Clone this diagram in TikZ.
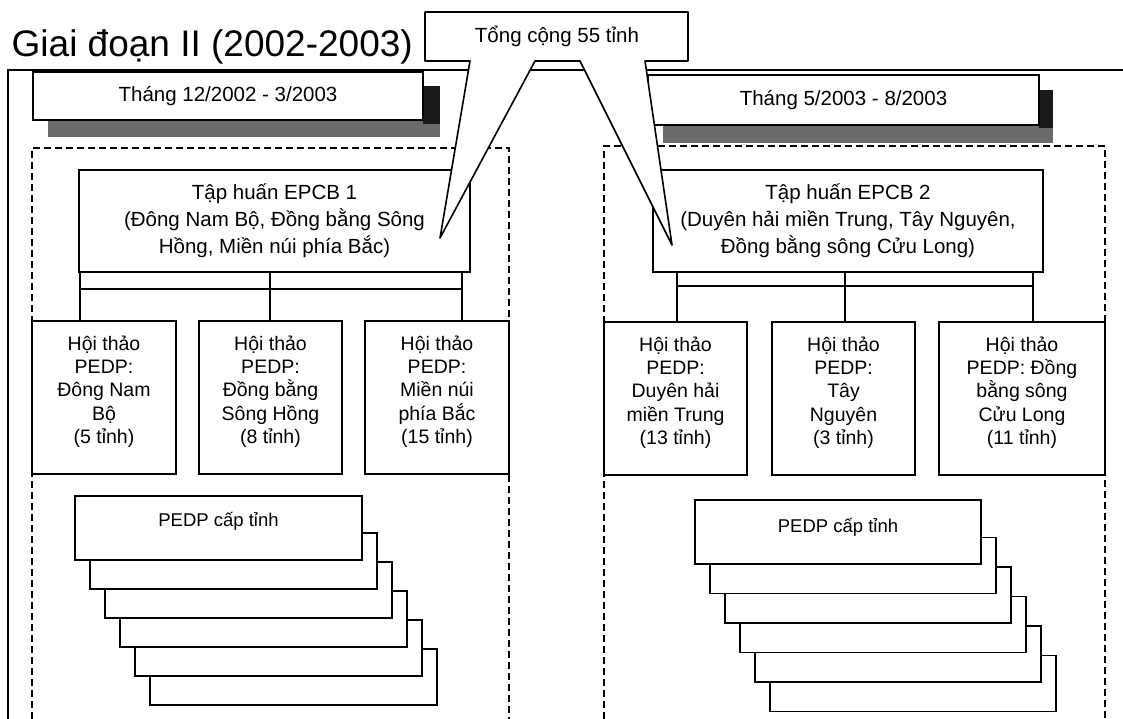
\documentclass[tikz,border=0pt]{standalone}
\usepackage{fontspec}
\setmainfont{Liberation Sans}
\usetikzlibrary{calc}
\begin{document}
\begin{tikzpicture}[x=1pt,y=-1pt,
  box/.style={draw=black, line width=1.6pt, fill=white, rectangle, inner sep=0pt, outer sep=0pt, anchor=north west},
  conn/.style={draw=black, line width=1.1pt},
  dashbox/.style={draw=black, line width=1.8pt, dash pattern=on 7pt off 4pt},
  frameline/.style={draw=black, line width=1.4pt},
  shadowband/.style={fill=black!58},
  shadowstrip/.style={fill=black!90},
  txt/.style={font=\fontsize{20.5}{27}\selectfont, align=center, inner sep=0pt},
  wtxt/.style={font=\fontsize{19.5}{23.3}\selectfont, align=center, inner sep=0pt},
  stxt/.style={font=\fontsize{18.5}{22}\selectfont, inner sep=0pt},
  callout/.style={draw=black, line width=1.6pt, fill=white, line join=round},
]
\useasboundingbox (0,0) rectangle (1123,719);
\clip (0,0) rectangle (1123,719);

% title
\node[anchor=base east, font=\fontsize{37}{40}\selectfont, inner sep=0pt] (title) at (413,57) {Giai đoạn II (2002-2003)};

% outer frame
\draw[frameline] (8,730) -- (8,70) -- (1130,70);

% dashed groups
\draw[dashbox] (32,730) -- (32,148) -- (509,148) -- (509,730);
\draw[dashbox] (604,730) -- (604,146) -- (1105,146) -- (1105,730);

% headers with shadows
\fill[shadowband] (48,87) rectangle (440,137);
\fill[shadowstrip] (423,86) rectangle (440,124);
\node[box, minimum width=390pt, minimum height=48pt, txt] (hdrL) at (33,72) {Tháng 12/2002 - 3/2003};

\fill[shadowband] (663,92) rectangle (1053,143);
\fill[shadowstrip] (1039,90) rectangle (1053,128);
\node[box, minimum width=391pt, minimum height=50pt, txt] (hdrR) at (648,75) {Tháng 5/2003 - 8/2003};

% training boxes
\node[box, minimum width=391pt, minimum height=102pt, txt] (epcbL) at (79,170) {Tập huấn EPCB 1\\(Đông Nam Bộ, Đồng bằng Sông\\Hồng, Miền núi phía Bắc)};
\node[box, minimum width=390pt, minimum height=102pt, txt] (epcbR) at (653,170) {Tập huấn EPCB 2\\(Duyên hải miền Trung, Tây Nguyên,\\Đồng bằng sông Cửu Long)};

% connectors
\coordinate (bL1) at (80,289); \coordinate (bL2) at (270,289); \coordinate (bL3) at (462,289);
\coordinate (bR1) at (677,286); \coordinate (bR2) at (845,286); \coordinate (bR3) at (1033,286);

% workshop boxes
\node[box, minimum width=144pt, minimum height=153pt] (wL1) at (32,321) {};
\node[box, minimum width=143pt, minimum height=153pt] (wL2) at (199,321) {};
\node[box, minimum width=144pt, minimum height=153pt] (wL3) at (365,321) {};
\node[box, minimum width=143pt, minimum height=153pt] (wR1) at (604,322) {};
\node[box, minimum width=143pt, minimum height=153pt] (wR2) at (772,322) {};
\node[box, minimum width=166pt, minimum height=153pt] (wR3) at (939,322) {};

\draw[conn] (bL1 |- epcbL.south) -- (bL1 |- wL1.north);
\draw[conn] (bL2 |- epcbL.south) -- (bL2 |- wL2.north);
\draw[conn] (bL3 |- epcbL.south) -- (bL3 |- wL3.north);
\draw[conn] (bL1) -- (bL3);
\draw[conn] (bR1 |- epcbR.south) -- (bR1 |- wR1.north);
\draw[conn] (bR2 |- epcbR.south) -- (bR2 |- wR2.north);
\draw[conn] (bR3 |- epcbR.south) -- (bR3 |- wR3.north);
\draw[conn] (bR1) -- (bR3);

\node[wtxt] at ($(wL1.center)+(0,-6)$) {Hội thảo\\PEDP:\\Đông Nam\\Bộ\\(5 tỉnh)};
\node[wtxt] at ($(wL2.center)+(0,-6)$) {Hội thảo\\PEDP:\\Đồng bằng\\Sông Hồng\\(8 tỉnh)};
\node[wtxt] at ($(wL3.center)+(0,-6)$) {Hội thảo\\PEDP:\\Miền núi\\phía Bắc\\(15 tỉnh)};
\node[wtxt] at ($(wR1.center)+(0,-6)$) {Hội thảo\\PEDP:\\Duyên hải\\miền Trung\\(13 tỉnh)};
\node[wtxt] at ($(wR2.center)+(0,-6)$) {Hội thảo\\PEDP:\\Tây\\Nguyên\\(3 tỉnh)};
\node[wtxt] at ($(wR3.center)+(0,-6)$) {Hội thảo\\PEDP: Đồng\\bằng sông\\Cửu Long\\(11 tỉnh)};

% stacks of provincial PEDP
\foreach \k in {5,4,3,2,1} {
  \node[box, minimum width=287pt, minimum height=56pt] (sL\k) at ({75+15*\k},{504+29*\k}) {};
}
\node[box, minimum width=287pt, minimum height=64pt] (sL0) at (75,496) {};
\node[stxt] at ($(sL0.north)+(0,25)$) {PEDP cấp tỉnh};

\foreach \k in {5,4,3,2,1} {
  \node[box, minimum width=286pt, minimum height=56pt] (sR\k) at ({695+15*\k},{508+29.5*\k}) {};
}
\node[box, minimum width=286pt, minimum height=64pt] (sR0) at (695,500) {};
\node[stxt] at ($(sR0.north)+(0,27)$) {PEDP cấp tỉnh};

% callout
\coordinate (tipL) at (440,238);
\coordinate (tipR) at (672,245);
\draw[callout] (425,12) -- (688,12) -- (688,61) -- (645,61) -- (tipR) -- (580,61) -- (535,61) -- (tipL) -- (470,61) -- (425,61) -- cycle;
\node[txt] (total) at (557,36) {Tổng cộng 55 tỉnh};
\end{tikzpicture}
\end{document}
